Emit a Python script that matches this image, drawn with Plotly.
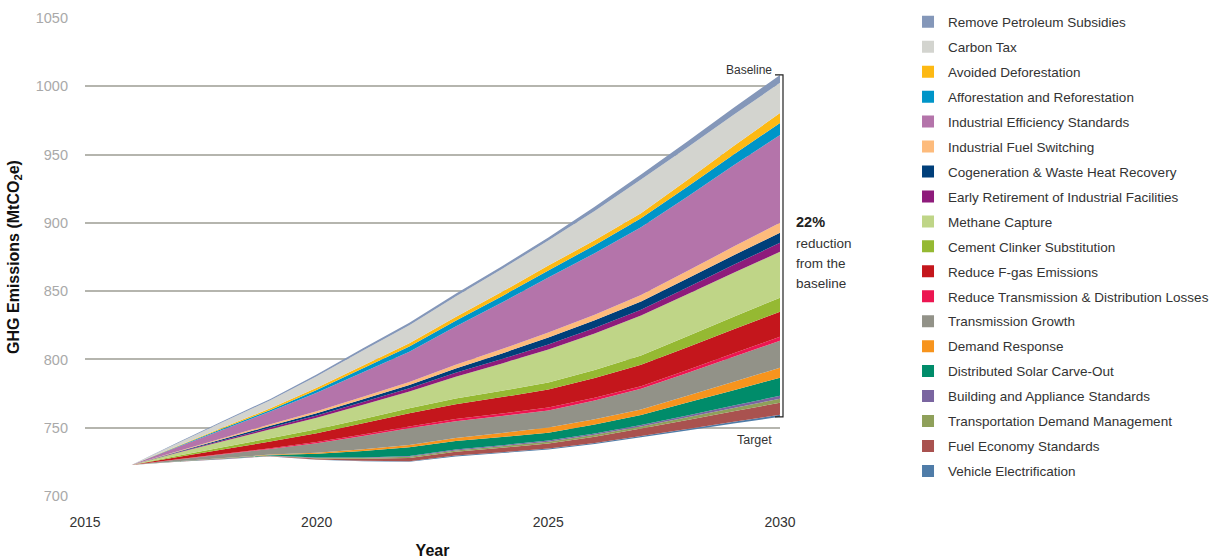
import plotly.graph_objects as go

years = list(range(2016, 2031))

# Emissions after all policies (bottom of stack), MtCO2e
target = [722.7, 725.0, 727.0, 729.0, 726.5, 725.5, 725.0, 729.0, 731.5, 734.0, 738.0, 743.0, 748.0, 753.0, 758.0]

# Wedge sizes (MtCO2e), bottom to top of stack
vehicle_electrification = [0, 0.1, 0.1, 0.1, 0.2, 0.3, 0.5, 0.6, 0.6, 0.7, 0.8, 0.9, 1.1, 1.3, 1.5]
fuel_economy = [0, 0.1, 0.1, 0.2, 0.8, 1.5, 2.4, 2.8, 3.2, 3.7, 4.6, 5.5, 6.6, 7.7, 8.8]
transport_demand = [0, 0.1, 0.1, 0.2, 0.4, 0.6, 0.8, 1.0, 1.2, 1.4, 1.45, 1.5, 1.9, 2.4, 2.9]
building_appliance = [0, 0.0, 0.1, 0.1, 0.2, 0.3, 0.5, 0.6, 0.7, 0.8, 0.9, 1.0, 1.4, 1.8, 2.2]
distributed_solar = [0, 0.1, 0.2, 0.4, 2.8, 4.8, 6.5, 6.2, 6.0, 5.8, 6.6, 7.5, 9.4, 11.3, 13.2]
demand_response = [0, 0.1, 0.2, 0.3, 0.8, 1.2, 1.7, 2.3, 3.0, 3.7, 3.8, 3.9, 5.0, 6.2, 7.3]
transmission_growth = [0, 1.3, 2.8, 4.2, 7.0, 9.8, 12.2, 12.3, 12.4, 12.5, 13.8, 15.2, 16.7, 18.3, 19.8]
td_losses = [0, 0.2, 0.3, 0.5, 0.8, 1.0, 1.2, 1.5, 1.8, 2.2, 2.0, 1.9, 2.2, 2.6, 2.9]
fgas = [0, 1.6, 3.3, 4.9, 6.5, 8.2, 9.8, 10.9, 12.0, 13.1, 14.4, 15.7, 16.6, 17.5, 18.3]
cement_clinker = [0, 0.8, 1.6, 2.4, 2.8, 3.2, 3.7, 4.2, 4.7, 5.2, 6.0, 6.8, 8.0, 9.2, 10.3]
methane_capture = [0, 2.2, 4.4, 6.6, 8.5, 10.4, 12.2, 16.0, 20.0, 24.1, 26.7, 29.3, 30.8, 32.2, 33.6]
early_retirement = [0, 0.4, 0.8, 1.2, 1.6, 2.0, 2.4, 2.8, 3.2, 3.7, 4.0, 4.2, 5.0, 5.8, 6.6]
cogeneration = [0, 0.4, 0.9, 1.3, 1.7, 2.0, 2.4, 3.2, 4.1, 5.1, 5.6, 6.1, 6.5, 6.9, 7.3]
ind_fuel_switching = [0, 0.4, 0.8, 1.2, 1.5, 1.9, 2.2, 2.7, 3.2, 3.7, 4.1, 4.6, 5.5, 6.4, 7.3]
ind_efficiency = [0, 3.1, 6.2, 9.2, 13.5, 18.0, 22.2, 28.0, 34.0, 40.2, 45.0, 49.6, 54.5, 59.5, 64.4]
afforestation = [0, 0.4, 0.8, 1.2, 2.0, 2.8, 3.7, 4.2, 4.7, 5.2, 5.9, 6.6, 7.3, 8.0, 8.8]
avoided_deforestation = [0, 0.4, 0.8, 1.2, 1.6, 2.0, 2.4, 2.8, 3.2, 3.6, 3.6, 3.7, 4.9, 6.1, 7.3]
carbon_tax = [0, 2.0, 4.0, 5.9, 8.5, 11.0, 13.2, 15.0, 16.7, 18.3, 21.5, 24.7, 23.8, 22.9, 22.0]
petroleum_subsidies = [0, 0.4, 0.7, 1.0, 1.3, 1.6, 1.9, 2.0, 2.1, 2.2, 3.0, 3.7, 4.4, 5.1, 5.8]

names = [
    "Vehicle Electrification", "Fuel Economy Standards", "Transportation Demand Management",
    "Building and Appliance Standards", "Distributed Solar Carve-Out", "Demand Response",
    "Transmission Growth", "Reduce Transmission & Distribution Losses", "Reduce F-gas Emissions",
    "Cement Clinker Substitution", "Methane Capture", "Early Retirement of Industrial Facilities",
    "Cogeneration & Waste Heat Recovery", "Industrial Fuel Switching", "Industrial Efficiency Standards",
    "Afforestation and Reforestation", "Avoided Deforestation", "Carbon Tax", "Remove Petroleum Subsidies",
]
series = [
    vehicle_electrification, fuel_economy, transport_demand, building_appliance, distributed_solar,
    demand_response, transmission_growth, td_losses, fgas, cement_clinker, methane_capture,
    early_retirement, cogeneration, ind_fuel_switching, ind_efficiency, afforestation,
    avoided_deforestation, carbon_tax, petroleum_subsidies,
]
colors = [
    "#4f7ca8", "#a9524f", "#8fa05a", "#7a65a0", "#008c6a", "#f7941d", "#929288", "#ec1651",
    "#c4161c", "#95b932", "#bfd587", "#8e1b7b", "#003f7a", "#fdbb7c", "#b474aa", "#0095c8",
    "#fdb913", "#d3d4cf", "#8497b9",
]

FONT = "Liberation Sans, Arial, sans-serif"

fig = go.Figure()
fig.add_trace(go.Scatter(x=years, y=target, mode="none", stackgroup="s",
                         fillcolor="rgba(0,0,0,0)", showlegend=False, hoverinfo="skip"))
for n, s, c in zip(names, series, colors):
    fig.add_trace(go.Scatter(x=years, y=s, name=n, mode="none", stackgroup="s",
                             fillcolor=c, line=dict(width=0), showlegend=False))
# legend swatches, top of stack first
for i, (n, c) in enumerate(zip(names[::-1], colors[::-1])):
    fig.add_trace(go.Scatter(x=[None], y=[None], mode="markers", name=n, legendgroup=f"g{i}",
                             marker=dict(symbol="square", size=12, color=c)))

baseline_2030 = target[-1] + sum(s[-1] for s in series)
target_2030 = target[-1]

Y0, Y1 = 700, 1050
def py(v):
    return (v - Y0) / (Y1 - Y0)

W = 695.0
xa = 1 + (775 - 780) / W
xb = 1 + (783 - 780) / W
fig.add_shape(type="path", xref="paper", yref="paper",
              path=f"M {xa},{py(baseline_2030)} L {xb},{py(baseline_2030)} L {xb},{py(target_2030)} L {xa},{py(target_2030)}",
              line=dict(color="#222", width=1.2))

fig.add_annotation(x=2030, y=baseline_2030, xref="x", yref="y", text="Baseline",
                   showarrow=False, xanchor="right", yanchor="middle", xshift=-6, yshift=5,
                   font=dict(family=FONT, size=12, color="#333"))
fig.add_annotation(x=2030, y=target_2030, xref="x", yref="y", text="Target",
                   showarrow=False, xanchor="right", yanchor="middle", xshift=-6, yshift=-23,
                   font=dict(family=FONT, size=12.5, color="#333"))
mid = py((baseline_2030 + target_2030) / 2)
for txt, dy, bold in [("22%", 24, True), ("reduction", 2, False), ("from the", -18, False), ("baseline", -38, False)]:
    fig.add_annotation(x=xb, y=mid, xref="paper", yref="paper",
                       text=f"<b>{txt}</b>" if bold else txt,
                       showarrow=False, xanchor="left", yanchor="middle", xshift=11, yshift=dy,
                       font=dict(family=FONT, size=14.5 if bold else 13.5, color="#222" if bold else "#333"))

fig.update_layout(
    width=1212, height=559,
    margin=dict(l=85, r=432, t=18, b=63, autoexpand=False),
    paper_bgcolor="white", plot_bgcolor="white",
    font=dict(family=FONT, size=14, color="#333"),
    showlegend=True,
    legend=dict(x=1.1842, y=1.024, xanchor="left", yanchor="top", traceorder="grouped",
                tracegroupgap=4.4, maxheight=540,
                font=dict(family=FONT, size=13.5, color="#333"), bgcolor="rgba(0,0,0,0)"),
    xaxis=dict(range=[2015, 2030], tickvals=[2015, 2020, 2025, 2030], showgrid=False,
               zeroline=False, showline=False, ticks="", ticklabelstandoff=16,
               tickfont=dict(family=FONT, size=14, color="#333"),
               title=dict(text="<b>Year</b>", font=dict(family=FONT, size=16, color="#111"), standoff=15)),
    yaxis=dict(range=[Y0, Y1], tickvals=list(range(700, 1051, 50)), showgrid=True,
               gridcolor="#b5b5ae", gridwidth=1.5, zeroline=False, showline=False, ticks="",
               ticklabelstandoff=16, tickfont=dict(family=FONT, size=14.5, color="#a9a9a9"),
               title=dict(text="<b>GHG Emissions (MtCO<sub>2</sub>e)</b>",
                          font=dict(family=FONT, size=16, color="#111"), standoff=12)),
)

fig.write_html("out.html", config={"displayModeBar": False},
               post_script="document.body.style.margin='0px';")
